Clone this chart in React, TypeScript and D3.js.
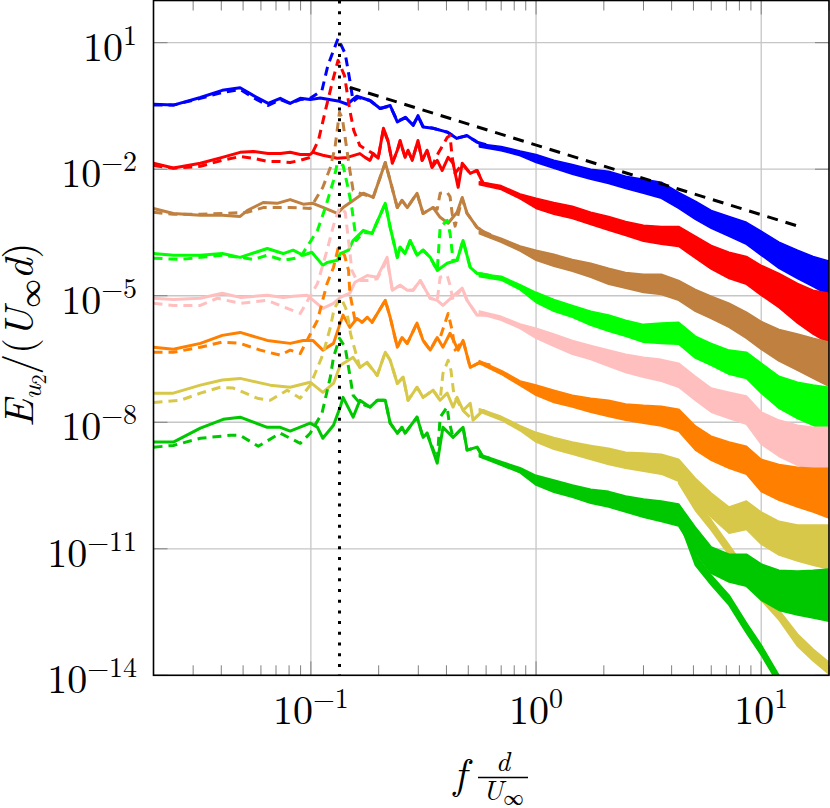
import React from 'react';
import * as d3 from 'd3';

type Pt = [number, number];

// Tick exponents
const Y_TICK_EXP = [1, -2, -5, -8, -11, -14];
const X_TICK_EXP = [-1, 0, 1];

// Reference lines
const ROLLOFF_F = [0.149, 14.9];
const ROLLOFF_E = [0.87, 4.3e-4];
const SHEDDING_F = 0.134;

// Frequency grid for the dense (noisy) high-frequency bands
const FREQ_BAND = [0.56, 0.7, 0.85, 1, 1.2, 1.45, 1.75, 2.1, 2.5, 3, 3.6, 4.3, 5.1, 6, 7.2, 8.6, 10, 12, 14.5, 17, 20];
const FREQ_BRANCH = [4.3, 5.1, 6, 7.2, 8.6, 10, 12, 14.5, 17, 20];

// ---- Series (log10 of E) ----
const blueSolid: Pt[] = [[0.02,-0.46],[0.0245,-0.48],[0.0323,-0.30],[0.0404,-0.13],[0.0485,-0.07],[0.0554,-0.25],[0.0646,-0.44],[0.0731,-0.32],[0.0809,-0.44],[0.0897,-0.32],[0.0993,-0.35],[0.110,-0.31],[0.134,-0.39],[0.145,-0.46],[0.16,-0.27],[0.183,-0.37],[0.203,-0.56],[0.225,-0.49],[0.242,-0.88],[0.263,-0.77],[0.285,-0.96],[0.299,-0.73],[0.315,-1.00],[0.349,-1.03],[0.403,-1.12],[0.445,-1.27],[0.493,-1.20],[0.547,-1.36],[0.6,-1.42]];
const blueDashed: Pt[] = [[0.02,-0.48],[0.0245,-0.48],[0.0323,-0.32],[0.0404,-0.18],[0.0485,-0.11],[0.0554,-0.30],[0.0646,-0.49],[0.0731,-0.35],[0.0809,-0.44],[0.0897,-0.35],[0.0993,-0.32],[0.112,-0.13],[0.119,0.46],[0.132,1.10],[0.142,0.74],[0.149,0.10],[0.154,-0.39],[0.162,-0.30],[0.183,-0.37],[0.203,-0.56],[0.225,-0.50],[0.242,-0.86],[0.263,-0.78],[0.285,-0.94],[0.299,-0.75],[0.315,-0.99],[0.349,-1.03],[0.403,-1.12],[0.445,-1.26],[0.493,-1.21],[0.547,-1.35]];
const blueTop = [-1.40,-1.46,-1.57,-1.65,-1.79,-1.89,-2.00,-2.05,-2.17,-2.24,-2.31,-2.55,-2.76,-2.98,-3.12,-3.26,-3.47,-3.73,-3.92,-4.07,-4.18];
const blueBot = [-1.47,-1.56,-1.68,-1.84,-1.98,-2.12,-2.24,-2.34,-2.46,-2.57,-2.69,-2.93,-3.19,-3.40,-3.59,-3.78,-4.04,-4.35,-4.59,-4.78,-4.99];

const redSolid: Pt[] = [[0.02,-1.86],[0.0245,-1.97],[0.0323,-1.86],[0.0404,-1.72],[0.0485,-1.60],[0.0554,-1.58],[0.0646,-1.63],[0.0731,-1.63],[0.0809,-1.60],[0.0897,-1.65],[0.0993,-1.65],[0.102,-1.60],[0.113,-1.67],[0.131,-1.74],[0.145,-1.72],[0.165,-1.63],[0.174,-1.72],[0.183,-1.79],[0.189,-1.63],[0.199,-1.74],[0.210,-1.03],[0.220,-1.32],[0.230,-1.86],[0.242,-1.55],[0.249,-1.32],[0.262,-1.72],[0.270,-1.55],[0.282,-1.79],[0.299,-1.32],[0.312,-1.79],[0.328,-1.55],[0.345,-1.96],[0.364,-1.79],[0.383,-2.03],[0.407,-1.72],[0.428,-1.86],[0.451,-2.43],[0.470,-1.86],[0.510,-2.10],[0.547,-2.03],[0.582,-2.34],[0.62,-2.36]];
const redDashed: Pt[] = [[0.02,-1.91],[0.0245,-1.98],[0.0323,-1.93],[0.0404,-1.79],[0.0485,-1.70],[0.0554,-1.74],[0.0646,-1.82],[0.0731,-1.82],[0.0809,-1.84],[0.0897,-1.79],[0.0993,-1.72],[0.108,-1.32],[0.116,-0.61],[0.125,0.10],[0.132,0.58],[0.141,0.22],[0.149,-0.61],[0.155,-1.08],[0.165,-1.44],[0.178,-1.55],[0.189,-1.63],[0.199,-1.74],[0.210,-1.05],[0.220,-1.34],[0.230,-1.84],[0.242,-1.57],[0.249,-1.34],[0.262,-1.70],[0.270,-1.57],[0.282,-1.77],[0.299,-1.34],[0.312,-1.79],[0.328,-1.55],[0.345,-1.94],[0.367,-1.63],[0.403,-1.25],[0.415,-1.20],[0.424,-1.72],[0.437,-2.10],[0.470,-1.87],[0.510,-2.10],[0.547,-2.03],[0.582,-2.33]];
const redTop = [-2.30,-2.39,-2.59,-2.69,-2.79,-2.88,-3.02,-3.12,-3.24,-3.33,-3.36,-3.36,-3.59,-3.81,-3.97,-4.07,-4.28,-4.47,-4.71,-4.87,-4.94];
const redBot = [-2.37,-2.48,-2.70,-2.93,-3.07,-3.17,-3.31,-3.45,-3.57,-3.71,-3.78,-3.83,-4.11,-4.37,-4.59,-4.73,-4.99,-5.28,-5.65,-5.91,-6.13];

const brownSolid: Pt[] = [[0.02,-2.93],[0.0245,-3.05],[0.0323,-3.09],[0.0404,-3.09],[0.0485,-3.12],[0.0521,-2.98],[0.0614,-2.79],[0.0708,-2.81],[0.0809,-2.72],[0.0925,-2.83],[0.102,-2.81],[0.116,-2.93],[0.131,-3.05],[0.139,-2.91],[0.154,-2.74],[0.171,-2.57],[0.189,-2.67],[0.214,-1.84],[0.225,-2.27],[0.242,-2.91],[0.254,-2.74],[0.268,-2.91],[0.296,-2.57],[0.315,-3.05],[0.349,-2.91],[0.375,-3.14],[0.407,-3.28],[0.446,-3.02],[0.470,-2.67],[0.494,-3.05],[0.547,-3.38],[0.594,-3.50],[0.63,-3.56]];
const brownDashed: Pt[] = [[0.02,-3.02],[0.0245,-3.07],[0.0323,-3.07],[0.0404,-3.05],[0.0521,-3.02],[0.0614,-2.91],[0.0809,-2.91],[0.0993,-2.93],[0.113,-2.43],[0.122,-1.96],[0.128,-1.48],[0.134,-0.65],[0.138,-0.80],[0.149,-2.03],[0.154,-2.50],[0.165,-2.57],[0.189,-2.67],[0.214,-1.84],[0.225,-2.27],[0.242,-2.91],[0.254,-2.74],[0.268,-2.91],[0.296,-2.57],[0.315,-3.05],[0.349,-2.91],[0.364,-2.95],[0.375,-2.57],[0.403,-2.55],[0.415,-2.65],[0.424,-3.05],[0.437,-3.35],[0.470,-2.70],[0.494,-3.05],[0.547,-3.38],[0.594,-3.50]];
const brownTop = [-3.46,-3.64,-3.82,-3.92,-4.02,-4.14,-4.23,-4.35,-4.45,-4.49,-4.49,-4.64,-4.85,-5.01,-5.18,-5.39,-5.61,-5.80,-5.91,-6.01,-6.10];
const brownBot = [-3.53,-3.73,-3.94,-4.16,-4.30,-4.42,-4.56,-4.73,-4.82,-4.92,-4.97,-5.11,-5.37,-5.54,-5.75,-6.01,-6.27,-6.55,-6.77,-6.96,-7.15];

const greenSolid: Pt[] = [[0.02,-4.00],[0.0245,-4.04],[0.0323,-4.04],[0.0404,-4.00],[0.0485,-4.09],[0.064,-3.88],[0.0753,-4.00],[0.0834,-3.92],[0.0925,-4.04],[0.101,-3.97],[0.113,-4.28],[0.118,-4.21],[0.131,-4.16],[0.135,-4.00],[0.147,-3.92],[0.154,-3.69],[0.171,-3.45],[0.187,-3.52],[0.214,-2.81],[0.225,-3.38],[0.242,-4.09],[0.249,-3.85],[0.262,-4.00],[0.276,-3.69],[0.296,-4.04],[0.315,-3.92],[0.339,-4.09],[0.364,-4.40],[0.403,-4.23],[0.446,-4.16],[0.474,-3.69],[0.510,-4.33],[0.547,-4.47],[0.607,-4.50],[0.64,-4.55]];
const greenDashed: Pt[] = [[0.02,-4.11],[0.0263,-4.14],[0.0323,-4.09],[0.0404,-4.04],[0.0485,-4.09],[0.0554,-4.14],[0.064,-4.04],[0.0753,-4.16],[0.0897,-4.09],[0.107,-3.45],[0.116,-2.91],[0.126,-2.27],[0.131,-1.86],[0.139,-1.91],[0.147,-2.50],[0.152,-2.91],[0.159,-3.69],[0.171,-3.50],[0.187,-3.52],[0.214,-2.81],[0.225,-3.38],[0.242,-4.09],[0.249,-3.85],[0.262,-4.00],[0.276,-3.69],[0.296,-4.04],[0.315,-3.92],[0.339,-4.09],[0.364,-4.40],[0.375,-3.38],[0.403,-3.21],[0.415,-3.52],[0.428,-4.16],[0.446,-4.16],[0.474,-3.69],[0.510,-4.33],[0.547,-4.47],[0.607,-4.50]];
const greenTop = [-4.48,-4.54,-4.74,-4.92,-5.09,-5.23,-5.37,-5.46,-5.58,-5.68,-5.65,-5.63,-5.96,-6.13,-6.29,-6.34,-6.60,-6.91,-7.05,-7.12,-7.17];
const greenBot = [-4.55,-4.63,-4.86,-5.16,-5.37,-5.51,-5.70,-5.84,-5.96,-6.10,-6.13,-6.15,-6.48,-6.65,-6.86,-6.96,-7.31,-7.67,-7.91,-8.07,-8.26];

const pinkSolid: Pt[] = [[0.02,-5.06],[0.0245,-5.09],[0.0323,-5.06],[0.0404,-4.94],[0.0485,-5.04],[0.064,-4.99],[0.0753,-5.04],[0.0834,-5.01],[0.0964,-4.99],[0.113,-5.30],[0.126,-5.18],[0.135,-5.04],[0.149,-4.94],[0.157,-4.68],[0.178,-4.52],[0.197,-4.56],[0.218,-4.09],[0.230,-4.87],[0.249,-4.75],[0.268,-4.87],[0.284,-4.87],[0.306,-4.64],[0.339,-5.06],[0.364,-5.11],[0.386,-5.23],[0.428,-5.01],[0.470,-4.82],[0.494,-5.11],[0.547,-5.46],[0.625,-5.45]];
const pinkDashed: Pt[] = [[0.02,-5.18],[0.0245,-5.23],[0.0323,-5.23],[0.0384,-5.06],[0.0485,-5.18],[0.064,-5.11],[0.0785,-5.30],[0.0897,-5.42],[0.107,-4.71],[0.118,-3.92],[0.126,-3.33],[0.134,-2.91],[0.142,-3.02],[0.147,-3.69],[0.152,-4.40],[0.160,-4.64],[0.178,-4.64],[0.197,-4.60],[0.218,-4.15],[0.230,-4.87],[0.249,-4.75],[0.268,-4.87],[0.284,-4.87],[0.306,-4.64],[0.339,-5.06],[0.364,-5.11],[0.375,-4.56],[0.403,-4.52],[0.415,-4.75],[0.428,-5.11],[0.470,-4.82],[0.494,-5.11],[0.547,-5.46],[0.625,-5.45]];
const pinkTop = [-5.36,-5.49,-5.67,-5.77,-5.91,-6.06,-6.18,-6.29,-6.39,-6.46,-6.51,-6.60,-6.91,-7.19,-7.29,-7.38,-7.76,-7.95,-8.07,-8.12,-8.12];
const pinkBot = [-5.43,-5.58,-5.78,-6.01,-6.20,-6.39,-6.51,-6.67,-6.82,-6.93,-7.03,-7.17,-7.48,-7.76,-7.91,-8.05,-8.52,-8.81,-9.02,-9.16,-9.30];

const orangeSolid: Pt[] = [[0.02,-6.22],[0.0245,-6.27],[0.0323,-6.13],[0.0404,-5.94],[0.0485,-5.87],[0.064,-6.06],[0.0809,-6.13],[0.0925,-6.06],[0.102,-6.06],[0.113,-6.29],[0.126,-6.13],[0.135,-5.65],[0.139,-5.46],[0.149,-5.75],[0.160,-5.54],[0.169,-5.63],[0.178,-5.51],[0.187,-5.63],[0.214,-5.11],[0.225,-5.51],[0.242,-6.22],[0.254,-5.99],[0.268,-6.13],[0.296,-5.65],[0.315,-6.06],[0.339,-6.29],[0.364,-5.99],[0.386,-6.22],[0.415,-5.89],[0.451,-6.29],[0.474,-6.06],[0.510,-6.70],[0.564,-6.58],[0.625,-6.65]];
const orangeDashed: Pt[] = [[0.02,-6.34],[0.0245,-6.34],[0.0323,-6.22],[0.0404,-6.10],[0.0485,-6.13],[0.0596,-6.29],[0.0731,-6.41],[0.0809,-6.29],[0.0897,-6.37],[0.107,-5.58],[0.118,-4.71],[0.126,-4.33],[0.132,-3.88],[0.141,-4.04],[0.147,-4.40],[0.149,-4.94],[0.157,-5.58],[0.169,-5.63],[0.178,-5.51],[0.187,-5.63],[0.214,-5.11],[0.225,-5.51],[0.242,-6.22],[0.254,-5.99],[0.268,-6.13],[0.296,-5.65],[0.315,-6.06],[0.339,-6.29],[0.364,-5.99],[0.375,-5.99],[0.407,-5.42],[0.424,-5.82],[0.437,-6.29],[0.474,-6.06],[0.510,-6.70],[0.564,-6.58],[0.625,-6.65]];
const orangeTop = [-6.54,-6.77,-7.02,-7.12,-7.24,-7.36,-7.43,-7.48,-7.57,-7.60,-7.62,-7.69,-8.09,-8.33,-8.47,-8.57,-8.88,-9.00,-9.07,-9.09,-9.09];
const orangeBot = [-6.61,-6.86,-7.13,-7.36,-7.53,-7.64,-7.76,-7.86,-7.95,-8.02,-8.09,-8.21,-8.66,-8.90,-9.09,-9.23,-9.64,-9.85,-10.01,-10.13,-10.27];

const yellowSolid: Pt[] = [[0.02,-7.31],[0.0245,-7.31],[0.0323,-7.12],[0.0404,-7.00],[0.0485,-6.96],[0.066,-7.12],[0.0809,-7.17],[0.0993,-7.05],[0.113,-7.29],[0.126,-7.08],[0.135,-6.65],[0.147,-6.53],[0.154,-6.46],[0.165,-6.70],[0.178,-6.58],[0.197,-6.89],[0.214,-6.34],[0.225,-6.53],[0.242,-7.08],[0.257,-6.93],[0.270,-7.48],[0.296,-7.17],[0.315,-7.41],[0.349,-7.24],[0.375,-7.48],[0.403,-7.31],[0.428,-7.64],[0.446,-7.41],[0.474,-7.72],[0.510,-7.55],[0.525,-7.95],[0.582,-7.72],[0.625,-7.80]];
const yellowDashed: Pt[] = [[0.02,-7.53],[0.0263,-7.48],[0.0323,-7.31],[0.0396,-7.17],[0.0452,-7.19],[0.0578,-7.43],[0.066,-7.48],[0.0785,-7.24],[0.0897,-7.43],[0.0993,-7.12],[0.113,-6.40],[0.122,-5.75],[0.127,-5.30],[0.136,-5.05],[0.143,-5.30],[0.147,-5.60],[0.150,-5.90],[0.157,-6.29],[0.165,-6.70],[0.178,-6.60],[0.197,-6.89],[0.214,-6.34],[0.225,-6.53],[0.242,-7.08],[0.257,-6.93],[0.270,-7.48],[0.296,-7.17],[0.315,-7.41],[0.349,-7.24],[0.375,-7.48],[0.386,-6.84],[0.407,-6.53],[0.419,-6.77],[0.432,-7.36],[0.474,-7.72],[0.525,-7.95],[0.582,-7.72]];
const yellowTop = [-7.68,-7.86,-8.08,-8.24,-8.36,-8.47,-8.55,-8.62,-8.71,-8.73,-8.76,-8.88,-9.33,-9.68,-10.01,-9.87,-10.13,-10.35,-10.44,-10.44,-10.44];
const yellowBot = [-7.75,-7.95,-8.20,-8.47,-8.64,-8.76,-8.88,-9.00,-9.09,-9.16,-9.23,-9.40,-9.90,-10.25,-10.63,-10.54,-10.89,-11.15,-11.29,-11.39,-11.48];
const yellowBranchTop = [-9.21,-9.85,-10.32,-10.91,-11.51,-11.98,-12.46,-13.02,-13.38,-13.69];
const yellowBranchBot = [-9.45,-10.09,-10.56,-11.15,-11.74,-12.22,-12.69,-13.31,-13.66,-13.97];

const dkgreenSolid: Pt[] = [[0.02,-8.47],[0.0245,-8.47],[0.0323,-8.14],[0.0408,-7.93],[0.0485,-7.88],[0.064,-8.12],[0.0731,-8.12],[0.0809,-8.21],[0.0993,-8.02],[0.107,-8.12],[0.113,-8.38],[0.126,-8.07],[0.135,-7.64],[0.139,-7.41],[0.154,-7.88],[0.165,-7.48],[0.183,-7.64],[0.197,-7.48],[0.214,-7.48],[0.225,-8.02],[0.242,-8.26],[0.254,-8.12],[0.262,-8.26],[0.296,-7.88],[0.315,-8.36],[0.328,-8.26],[0.364,-8.97],[0.386,-8.12],[0.428,-8.36],[0.474,-8.12],[0.494,-8.66],[0.547,-8.59],[0.582,-8.83],[0.62,-8.85]];
const dkgreenDashed: Pt[] = [[0.02,-8.59],[0.0245,-8.55],[0.0323,-8.38],[0.0438,-8.31],[0.0485,-8.31],[0.0584,-8.57],[0.0731,-8.26],[0.0809,-8.38],[0.0897,-8.50],[0.0993,-8.26],[0.112,-7.79],[0.122,-6.93],[0.126,-6.46],[0.134,-6.01],[0.142,-6.22],[0.149,-6.89],[0.154,-7.36],[0.165,-7.55],[0.183,-7.64],[0.197,-7.48],[0.214,-7.48],[0.225,-8.02],[0.242,-8.26],[0.254,-8.12],[0.262,-8.26],[0.296,-7.88],[0.315,-8.36],[0.328,-8.26],[0.364,-8.90],[0.375,-7.88],[0.403,-7.64],[0.410,-7.95],[0.428,-8.36],[0.474,-8.12],[0.494,-8.66],[0.547,-8.59],[0.582,-8.83]];
const dkgreenTop = [-8.75,-8.93,-9.08,-9.26,-9.37,-9.49,-9.59,-9.64,-9.75,-9.82,-9.87,-9.94,-10.49,-10.96,-11.13,-11.13,-11.36,-11.51,-11.53,-11.51,-11.48];
const dkgreenBot = [-8.82,-9.02,-9.20,-9.49,-9.66,-9.78,-9.92,-10.01,-10.13,-10.25,-10.35,-10.46,-11.10,-11.58,-11.79,-11.89,-12.22,-12.46,-12.57,-12.64,-12.72];
const dkgreenBranchTop = [-10.09,-11.15,-11.63,-12.10,-12.76,-13.28,-14.00,-14.71,-15.20,-15.60];
const dkgreenBranchBot = [-10.32,-11.39,-11.86,-12.34,-13.00,-13.52,-14.23,-14.94,-15.40,-15.80];

const COLORS = ['#0000ff', '#ff0000', '#bf8040', '#00ff00', '#ffbfbf', '#ff8000', '#d8c84a', '#00c800'];

interface Series { color: string; solid: Pt[]; dashed: Pt[]; top: number[]; bot: number[]; brTop?: number[]; brBot?: number[] }
const SERIES: Series[] = [
  { color: COLORS[0], solid: blueSolid, dashed: blueDashed, top: blueTop, bot: blueBot },
  { color: COLORS[1], solid: redSolid, dashed: redDashed, top: redTop, bot: redBot },
  { color: COLORS[2], solid: brownSolid, dashed: brownDashed, top: brownTop, bot: brownBot },
  { color: COLORS[3], solid: greenSolid, dashed: greenDashed, top: greenTop, bot: greenBot },
  { color: COLORS[4], solid: pinkSolid, dashed: pinkDashed, top: pinkTop, bot: pinkBot },
  { color: COLORS[5], solid: orangeSolid, dashed: orangeDashed, top: orangeTop, bot: orangeBot },
  { color: COLORS[6], solid: yellowSolid, dashed: yellowDashed, top: yellowTop, bot: yellowBot, brTop: yellowBranchTop, brBot: yellowBranchBot },
  { color: COLORS[7], solid: dkgreenSolid, dashed: dkgreenDashed, top: dkgreenTop, bot: dkgreenBot, brTop: dkgreenBranchTop, brBot: dkgreenBranchBot },
];

const FONT = '"Latin Modern Roman", "Liberation Serif", "DejaVu Serif", serif';

export default function App() {
  const L = 153.5, R = 829, T = 0.5, B = 675.3;
  const x = d3.scaleLog().domain([0.02, 20]).range([L, R]);
  const y = d3.scaleLog().domain([1e-14, 1e2]).range([B, T]);
  const P = (e: number) => y(Math.pow(10, e));
  const line = d3.line<Pt>().x(d => x(d[0])).y(d => P(d[1]));
  const band = (fs: number[], top: number[], bot: number[]) =>
    d3.area<number>().x(f => x(f)).y0((_, i) => P(bot[i])).y1((_, i) => P(top[i]))(fs) || '';
  const minor = x.ticks().filter(t => Math.abs(Math.log10(t) - Math.round(Math.log10(t))) > 1e-6);

  const rolloff: Pt[] = ROLLOFF_F.map((f, i) => [f, Math.log10(ROLLOFF_E[i])]);

  return (
    <svg width={830} height={808} style={{ position: 'absolute', left: 0, top: 0, background: '#fff' }}>
      <defs>
        <clipPath id="plot"><rect x={L} y={T} width={R - L} height={B - T} /></clipPath>
      </defs>
      <rect x={0} y={0} width={830} height={808} fill="#fff" />
      {/* grid */}
      <g stroke="#c6c6c6" strokeWidth={1.3}>
        {X_TICK_EXP.map(e => <line key={'gx' + e} x1={x(Math.pow(10, e))} x2={x(Math.pow(10, e))} y1={T} y2={B} />)}
        {Y_TICK_EXP.map(e => <line key={'gy' + e} x1={L} x2={R} y1={y(Math.pow(10, e))} y2={y(Math.pow(10, e))} />)}
      </g>
      {/* ticks */}
      <g stroke="#808080" strokeWidth={1}>
        {minor.map((t, i) => (
          <g key={'mt' + i}>
            <line x1={x(t)} x2={x(t)} y1={B} y2={B - 10} />
            <line x1={x(t)} x2={x(t)} y1={T} y2={T + 10} />
          </g>
        ))}
        {X_TICK_EXP.map(e => (
          <g key={'xt' + e}>
            <line x1={x(Math.pow(10, e))} x2={x(Math.pow(10, e))} y1={B} y2={B - 14} />
            <line x1={x(Math.pow(10, e))} x2={x(Math.pow(10, e))} y1={T} y2={T + 14} />
          </g>
        ))}
        {Y_TICK_EXP.map(e => (
          <g key={'yt' + e}>
            <line x1={L} x2={L + 14} y1={y(Math.pow(10, e))} y2={y(Math.pow(10, e))} />
            <line x1={R} x2={R - 14} y1={y(Math.pow(10, e))} y2={y(Math.pow(10, e))} />
          </g>
        ))}
      </g>
      {/* data */}
      <g clipPath="url(#plot)" fill="none" strokeLinejoin="round" strokeLinecap="butt">
        {SERIES.map((s, i) => (
          <g key={'s' + i}>
            <path d={band(FREQ_BAND, s.top, s.bot)} fill={s.color} stroke={s.color} strokeWidth={1.6} />
            {s.brTop && s.brBot && (
              <path d={band(FREQ_BRANCH, s.brTop, s.brBot)} fill={s.color} stroke={s.color} strokeWidth={1.6} />
            )}
            <path d={line(s.solid) || ''} stroke={s.color} strokeWidth={3} />
            <path d={line(s.dashed) || ''} stroke={s.color} strokeWidth={3} strokeDasharray="9,6" />
          </g>
        ))}
        <path d={line(rolloff) || ''} stroke="#000" strokeWidth={3} strokeDasharray="11,8" />
        <line x1={x(SHEDDING_F)} x2={x(SHEDDING_F)} y1={T} y2={B} stroke="#000" strokeWidth={3} strokeDasharray="3,7.7" />
      </g>
      {/* frame */}
      <rect x={L} y={T} width={R - L} height={B - T} fill="none" stroke="#000" strokeWidth={1.6} />
      {/* tick labels */}
      <g fontFamily={FONT} fill="#000">
        {Y_TICK_EXP.map(e => (
          <text key={'yl' + e} x={137} y={y(Math.pow(10, e)) + 18} textAnchor="end" fontSize={40}>
            10<tspan fontSize={28} dy={-16}>{e < 0 ? '\u2212' + Math.abs(e) : String(e)}</tspan>
          </text>
        ))}
        {X_TICK_EXP.map(e => (
          <text key={'xl' + e} x={x(Math.pow(10, e))} y={724} textAnchor="middle" fontSize={40}>
            10<tspan fontSize={28} dy={-16}>{e < 0 ? '\u2212' + Math.abs(e) : String(e)}</tspan>
          </text>
        ))}
      </g>
      {/* y axis label */}
      <text transform="translate(33,335) rotate(-90)" textAnchor="middle" fontFamily={FONT} fontSize={41} fill="#000">
        <tspan fontStyle="italic">E</tspan>
        <tspan fontStyle="italic" fontSize={28} dy={8}>u</tspan>
        <tspan fontSize={20} dy={5}>2</tspan>
        <tspan dy={-13}>/(</tspan>
        <tspan fontStyle="italic">U</tspan>
        <tspan fontSize={28} dy={7}>{'\u221e'}</tspan>
        <tspan fontStyle="italic" dy={-7}>d</tspan>
        <tspan>)</tspan>
      </text>
      {/* x axis label */}
      <g fontFamily={FONT} fill="#000">
        <text x={460} y={788} textAnchor="middle" fontSize={42} fontStyle="italic">f</text>
        <text x={503} y={771} textAnchor="middle" fontSize={28} fontStyle="italic">d</text>
        <line x1={478} x2={528} y1={777.5} y2={777.5} stroke="#000" strokeWidth={1.3} />
        <text x={503} y={800} textAnchor="middle" fontSize={28}>
          <tspan fontStyle="italic">U</tspan>
          <tspan fontSize={20} dy={5}>{'\u221e'}</tspan>
        </text>
      </g>
    </svg>
  );
}
